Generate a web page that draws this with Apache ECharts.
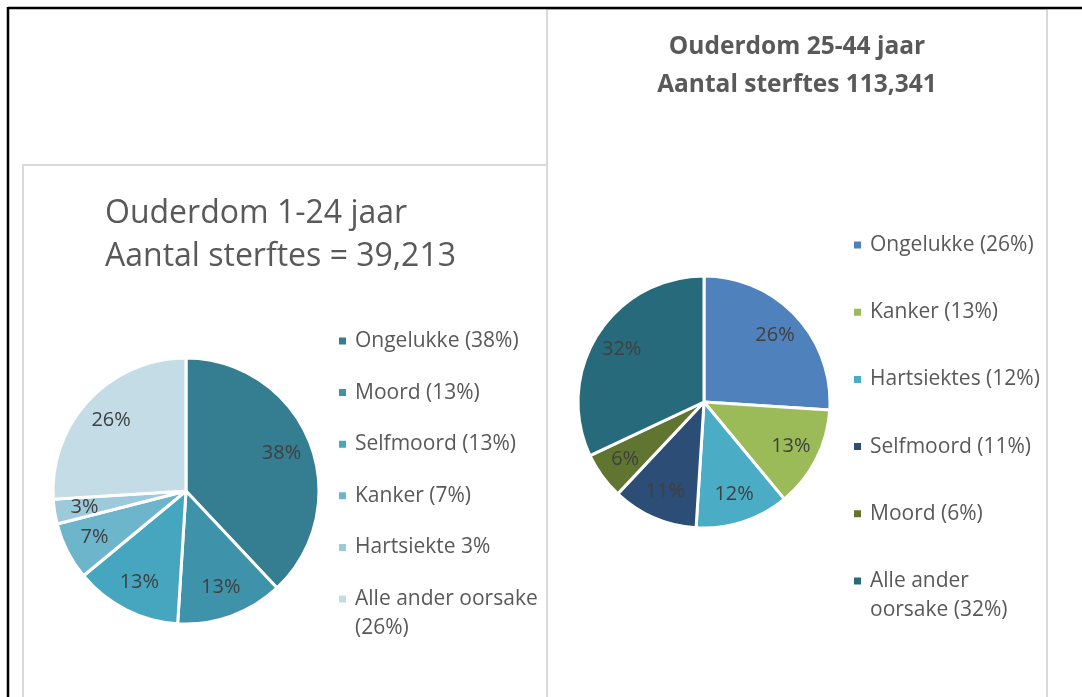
<!DOCTYPE html>
<html>
<head>
<meta charset="utf-8">
<script src="https://cdn.jsdelivr.net/npm/echarts@6/dist/echarts.min.js"></script>
<style>
  html, body { margin: 0; padding: 0; background: #fff; }
  #chartContainer { width: 1082px; height: 697px; }
</style>
</head>
<body>
<div id="chartContainer"></div>
<script>
// Ouderdom 1-24 jaar
var youngCauses = ["Ongelukke (38%)", "Moord (13%)", "Selfmoord (13%)", "Kanker (7%)", "Hartsiekte 3%", "Alle ander oorsake (26%)"];
var youngValues = [38, 13, 13, 7, 3, 26];
var youngColors = ["#357d91", "#3e92a9", "#46a6bf", "#6db5cb", "#9ccada", "#c3dce5"];

// Ouderdom 25-44 jaar
var adultCauses = ["Ongelukke (26%)", "Kanker (13%)", "Hartsiektes (12%)", "Selfmoord (11%)", "Moord (6%)", "Alle ander oorsake (32%)"];
var adultValues = [26, 13, 12, 11, 6, 32];
var adultColors = ["#4f81bd", "#9bbb59", "#4bacc6", "#2c4d75", "#5f7530", "#276a7c"];

// where the long legend names break onto a second line
// (leading blank line keeps the square level with the first text line)
var legendBreaks = {
  "Alle ander oorsake (26%)": " \nAlle ander oorsake\n(26%)",
  "Alle ander oorsake (32%)": " \nAlle ander\noorsake (32%)"
};

var FONT = "'Open Sans', sans-serif";
var TEXT_COLOR = "#595959";

function pieData(names, values, colors) {
  return values.map(function (v, i) {
    return { name: names[i], value: v, itemStyle: { color: colors[i] } };
  });
}

// one legend per item so each row sits where it should
function legendColumn(names, left, firstCenter, step) {
  return names.map(function (name, i) {
    var wrapped = !!legendBreaks[name];
    var center = firstCenter + i * step;
    return {
      data: [name],
      left: left,
      top: wrapped ? center - 43.5 : center - 14.5,
      padding: 0,
      orient: "vertical",
      icon: "rect",
      itemWidth: 9,
      itemHeight: 9,
      selectedMode: false,
      formatter: function (n) {
        return legendBreaks[n] || n;
      },
      textStyle: {
        color: TEXT_COLOR,
        fontSize: 21,
        fontFamily: FONT,
        lineHeight: 29,
        padding: [0, 0, 0, 3]
      }
    };
  });
}

function mainPie(center, r, names, values, colors) {
  return {
    type: "pie",
    center: center,
    radius: [0, r],
    startAngle: 90,
    clockwise: true,
    label: { show: false },
    labelLine: { show: false },
    itemStyle: { borderColor: "#fff", borderWidth: 3 },
    data: pieData(names, values, colors)
  };
}

// transparent ring on top, only used to sit the labels at 3/4 of the radius
function labelPie(center, r, names, values) {
  return {
    type: "pie",
    center: center,
    radius: [r / 2, r],
    startAngle: 90,
    clockwise: true,
    silent: true,
    label: {
      show: true,
      position: "inside",
      formatter: "{c}%",
      color: "#404040",
      fontSize: 20,
      fontFamily: FONT
    },
    labelLine: { show: false },
    itemStyle: { color: "rgba(0,0,0,0)", borderWidth: 0 },
    data: values.map(function (v, i) {
      return { name: names[i], value: v };
    })
  };
}

var myChart = echarts.init(document.getElementById("chartContainer"));

myChart.setOption({
  animation: false,
  title: [
    {
      text: "Ouderdom 1-24 jaar\nAantal sterftes = 39,213",
      left: 105,
      top: 192,
      padding: 0,
      textStyle: {
        color: TEXT_COLOR,
        fontSize: 32,
        fontWeight: "normal",
        fontFamily: FONT,
        lineHeight: 43
      }
    },
    {
      text: "Ouderdom 25-44 jaar\nAantal sterftes 113,341",
      left: 797,
      top: 28,
      padding: 0,
      textAlign: "center",
      textStyle: {
        color: TEXT_COLOR,
        fontSize: 24.5,
        fontWeight: "bold",
        fontFamily: FONT,
        lineHeight: 38
      }
    }
  ],
  legend: legendColumn(youngCauses, 337, 341, 51.6).concat(legendColumn(adultCauses, 852, 245, 67.2)),
  graphic: [
    { type: "rect", shape: { x: 23, y: 165, width: 524, height: 600 }, style: { fill: null, stroke: "#d9d9d9", lineWidth: 2 } },
    { type: "rect", shape: { x: 547, y: 9, width: 500, height: 800 }, style: { fill: null, stroke: "#d9d9d9", lineWidth: 2 } },
    { type: "line", shape: { x1: 8, y1: 8, x2: 1082, y2: 8 }, style: { stroke: "#000", lineWidth: 2.5 } },
    { type: "line", shape: { x1: 8, y1: 7, x2: 8, y2: 697 }, style: { stroke: "#000", lineWidth: 2.5 } }
  ],
  series: [
    mainPie([186, 491], 133, youngCauses, youngValues, youngColors),
    mainPie([704, 402], 126, adultCauses, adultValues, adultColors),
    labelPie([186, 491], 133, youngCauses, youngValues),
    labelPie([704, 402], 126, adultCauses, adultValues)
  ]
});
</script>
</body>
</html>
